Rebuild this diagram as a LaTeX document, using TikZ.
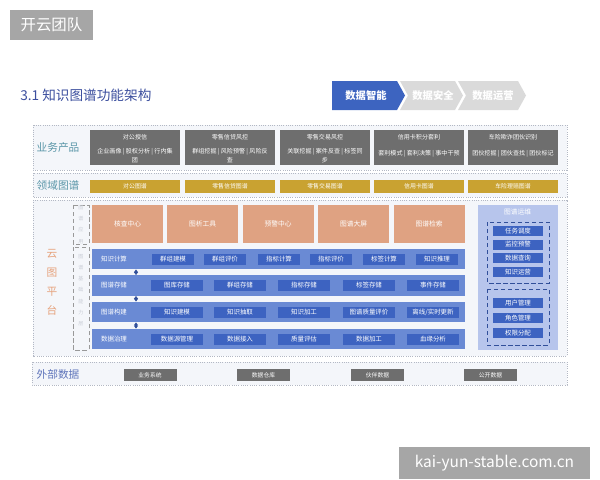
\documentclass[tikz,border=0pt]{standalone}
\usepackage{fontspec}
\setmainfont{Noto Sans CJK SC}
\usetikzlibrary{arrows.meta}
\definecolor{tagGray}{HTML}{A6A6A6}
\definecolor{titleBlue}{HTML}{3C4F9E}
\definecolor{chevBlue}{HTML}{3D64C0}
\definecolor{chevGray}{HTML}{DADADA}
\definecolor{prodGray}{HTML}{6E6E6E}
\definecolor{goldC}{HTML}{C9A231}
\definecolor{appOrange}{HTML}{DFA282}
\definecolor{rowBlue}{HTML}{6A8AD4}
\definecolor{cellBlue}{HTML}{3D63C1}
\definecolor{opsBlue}{HTML}{B7C5EC}
\definecolor{laneLine}{HTML}{B3B8C4}
\definecolor{laneFill}{HTML}{F4F6FA}
\definecolor{labTeal}{HTML}{5A96A8}
\definecolor{labBlue}{HTML}{5E74BA}
\definecolor{labOrange}{HTML}{E6A27C}
\definecolor{faintText}{HTML}{C9CDD6}
\begin{document}
\begin{tikzpicture}[x=0.025cm,y=-0.025cm,
  sz/.style 2 args={minimum width=#1*0.025cm,minimum height=#2*0.025cm,inner sep=0pt,outer sep=0pt},
  lane/.style={draw=laneLine,densely dotted,fill=laneFill,line width=0.6pt},
  lanelab/.style={font=\fontsize{7.6}{9}\selectfont,text=labTeal},
  prod/.style={fill=prodGray,sz={90}{35}},
  prodtxt/.style={text=white,font=\fontsize{4.3}{6}\selectfont,align=center,inner sep=0pt},
  gold/.style={fill=goldC,text=white,sz={90}{13},font=\fontsize{4.2}{5}\selectfont},
  app/.style={fill=appOrange,text=white,sz={71}{38},font=\fontsize{4.8}{6}\selectfont},
  row/.style={fill=rowBlue,sz={373}{20.5}},
  rowlab/.style={text=white,font=\fontsize{4.6}{6}\selectfont},
  cell/.style={fill=cellBlue,text=white,sz={52}{11},font=\fontsize{4.6}{6}\selectfont},
  ops/.style={fill=cellBlue,text=white,sz={50}{10},font=\fontsize{4.6}{6}\selectfont},
  ext/.style={fill=prodGray,text=white,sz={53}{12},font=\fontsize{4.1}{5}\selectfont},
  dbl/.style={<->,>={Latex[length=2.2pt,width=3.2pt]},draw=cellBlue!80!black,line width=0.9pt}]
\useasboundingbox (0,0) rectangle (600,480);

%tag + title
\node[fill=tagGray,text=white,sz={83}{30},font=\fontsize{11}{13}\selectfont] (tag) at (51.5,25) {开云团队};
\node[anchor=west,text=titleBlue,font=\fontsize{9.7}{11}\selectfont,inner sep=0pt] (title) at (20,95) {3.1 知识图谱功能架构};

%chevrons
\fill[chevBlue] (332,81) -- (397,81) -- (405,95.5) -- (397,110) -- (332,110) -- cycle;
\fill[chevGray] (400,81) -- (455,81) -- (463,95.5) -- (455,110) -- (400,110) -- (408,95.5) -- cycle;
\fill[chevGray] (458,81) -- (518,81) -- (526,95.5) -- (518,110) -- (458,110) -- (466,95.5) -- cycle;
\node[text=white,font=\fontsize{7.3}{9}\selectfont\bfseries] (c1) at (366,95.5) {数据智能};
\node[text=white,font=\fontsize{7.3}{9}\selectfont\bfseries] (c2) at (433,95.5) {数据安全};
\node[text=white,font=\fontsize{7.3}{9}\selectfont\bfseries] (c3) at (493,95.5) {数据运营};

%lanes
\draw[lane] (33,125) rectangle (567,170);
\draw[lane] (33,173) rectangle (567,197);
\draw[lane] (33,200) rectangle (567,356);
\draw[lane] (32,362) rectangle (567,385);
\node[lanelab] (l1) at (58,147.5) {业务产品};
\node[lanelab] (l2) at (58,185) {领域图谱};
\node[lanelab,text=labOrange,align=center,font=\fontsize{7.6}{13.5}\selectfont] (l3) at (52,282) {云\\图\\平\\台};
\node[lanelab,text=labBlue] (l4) at (58,374) {外部数据};

%business products
\node[prod] (p1) at (135,147.5) {};
\node[prod] (p2) at (230,147.5) {};
\node[prod] (p3) at (325,147.5) {};
\node[prod] (p4) at (419,147.5) {};
\node[prod] (p5) at (513,147.5) {};
\node[prodtxt] (p1t) at (135,137) {对公授信};
\node[prodtxt] (p2t) at (230,137) {零售信贷风控};
\node[prodtxt] (p3t) at (325,137) {零售交易风控};
\node[prodtxt] (p4t) at (419,137) {信用卡积分套利};
\node[prodtxt] (p5t) at (513,137) {车险欺诈团伙识别};
\node[prodtxt,anchor=north] (p1i) at (135,148.5) {企业画像 | 股权分析 | 行内集\\团};
\node[prodtxt,anchor=north] (p2i) at (230,148.5) {群组挖掘 | 风险预警 | 风险反\\查};
\node[prodtxt,anchor=north] (p3i) at (325,148.5) {关联挖掘 | 案件反查 | 标签同\\步};
\node[prodtxt] (p4i) at (419,153.5) {套利模式 | 套利决策 | 事中干预};
\node[prodtxt] (p5i) at (513,153.5) {团伙挖掘 | 团伙查找 | 团伙标记};

%domain graphs
\node[gold] (g1) at (135,186.5) {对公图谱};
\node[gold] (g2) at (230,186.5) {零售信贷图谱};
\node[gold] (g3) at (325,186.5) {零售交易图谱};
\node[gold] (g4) at (419,186.5) {信用卡图谱};
\node[gold] (g5) at (513,186.5) {车险理赔图谱};

%side marks
\draw[densely dashed,draw=gray!80] (73,205) rectangle (89,244);
\draw[densely dashed,draw=gray!80] (73,247) rectangle (89,350);
\node[text=faintText,align=center,font=\fontsize{3.6}{8}\selectfont] (s1) at (81,224.5) {图\\谱\\应\\用};
\node[text=faintText,align=center,font=\fontsize{3.6}{8}\selectfont] (s2) at (81,290) {图\\谱\\基\\础\\能\\力\\层};

%applications
\node[app] (a1) at (127.5,224) {核查中心};
\node[app] (a2) at (202.5,224) {图析工具};
\node[app] (a3) at (278,224) {预警中心};
\node[app] (a4) at (353.5,224) {图谱大屏};
\node[app] (a5) at (429,224) {图谱检索};

%platform rows
\node[row] (k1) at (278.5,259) {};
\node[row] (k2) at (278.5,285.5) {};
\node[row] (k3) at (278.5,312) {};
\node[row] (k4) at (278.5,339) {};
\node[rowlab] (k1l) at (114,259) {知识计算};
\node[rowlab] (k2l) at (114,285.5) {图谱存储};
\node[rowlab] (k3l) at (114,312) {图谱构建};
\node[rowlab] (k4l) at (114,339) {数据治理};
\coordinate (kx) at (136,0);
\draw[dbl] (k1.south -| kx) -- (k2.north -| kx);
\draw[dbl] (k2.south -| kx) -- (k3.north -| kx);
\draw[dbl] (k3.south -| kx) -- (k4.north -| kx);

%knowledge computing
\node[cell,sz={42}{11}] (k1a) at (173,259) {群组建模};
\node[cell,sz={42}{11}] (k1b) at (225,259) {群组评价};
\node[cell,sz={42}{11}] (k1c) at (279,259) {指标计算};
\node[cell,sz={42}{11}] (k1d) at (331,259) {指标评价};
\node[cell,sz={42}{11}] (k1e) at (384,259) {标签计算};
\node[cell,sz={42}{11}] (k1f) at (437,259) {知识推理};
%storage
\node[cell] (k2a) at (177,285.5) {图库存储};
\node[cell] (k2b) at (240,285.5) {群组存储};
\node[cell] (k2c) at (304,285.5) {指标存储};
\node[cell] (k2d) at (369,285.5) {标签存储};
\node[cell] (k2e) at (433,285.5) {事件存储};
%construction
\node[cell] (k3a) at (177,312) {知识建模};
\node[cell] (k3b) at (240,312) {知识抽取};
\node[cell] (k3c) at (304,312) {知识加工};
\node[cell] (k3d) at (369,312) {图谱质量评价};
\node[cell] (k3e) at (433,312) {离线/实时更新};
%governance
\node[cell] (k4a) at (177,339) {数据源管理};
\node[cell] (k4b) at (240,339) {数据接入};
\node[cell] (k4c) at (304,339) {质量评估};
\node[cell] (k4d) at (369,339) {数据加工};
\node[cell] (k4e) at (433,339) {血缘分析};

%operations panel
\node[fill=opsBlue,sz={80}{145}] (op) at (517.5,277.5) {};
\node[text=white,font=\fontsize{4.8}{6}\selectfont] (opt) at (517.5,212) {图谱运维};
\draw[densely dashed,draw=cellBlue!80!black,line width=0.5pt] (487,222) rectangle (549,283);
\draw[densely dashed,draw=cellBlue!80!black,line width=0.5pt] (487,289) rectangle (549,345);
\node[ops] (o1) at (518,231) {任务调度};
\node[ops] (o2) at (518,244.5) {监控预警};
\node[ops] (o3) at (518,258) {数据查询};
\node[ops] (o4) at (518,272) {知识运营};
\node[ops] (o5) at (518,303) {用户管理};
\node[ops] (o6) at (518,318) {角色管理};
\node[ops] (o7) at (518,333) {权限分配};

%external data
\node[ext] (e1) at (150,375) {业务系统};
\node[ext] (e2) at (263.5,375) {数据仓库};
\node[ext] (e3) at (377.5,375) {伙伴数据};
\node[ext] (e4) at (490.5,375) {公开数据};

%watermark
\node[fill=tagGray,text=white,sz={191}{32},font=\fontsize{11}{13}\selectfont] (wm) at (494.5,463) {kai-yun-stable.com.cn};
\end{tikzpicture}
\end{document}
